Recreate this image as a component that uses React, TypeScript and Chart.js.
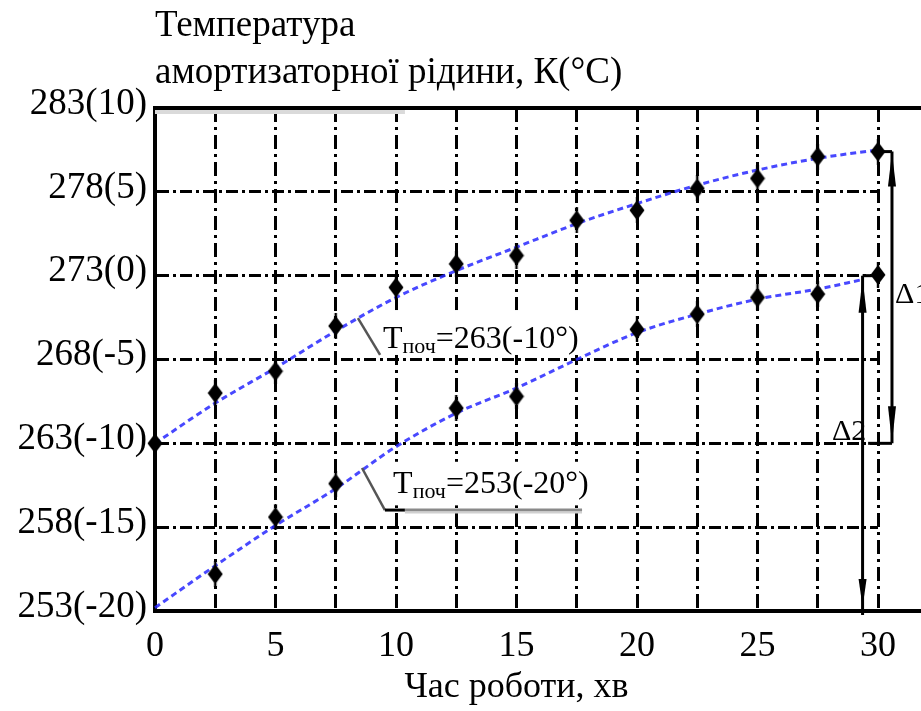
import React, { useEffect, useRef } from 'react';
import { Chart, registerables } from 'chart.js';

Chart.register(...registerables);

const FONT = "'Liberation Serif', 'Times New Roman', serif";

// ---- data ----
const TIME = [0, 2.5, 5, 7.5, 10, 12.5, 15, 17.5, 20, 22.5, 25, 27.5, 30];
const X_LABELS = [0, 5, 10, 15, 20, 25, 30];
const Y_TICKS = [253, 258, 263, 268, 273, 278, 283];

// measured points, initial temperature 263 K
const MEAS_263_X = [0, 2.5, 5, 7.5, 10, 12.5, 15, 17.5, 20, 22.5, 25, 27.5, 30];
const MEAS_263_Y = [263.0, 266.0, 267.3, 270.0, 272.3, 273.7, 274.2, 276.3, 276.9, 278.2, 278.8, 280.1, 280.4];
// measured points, initial temperature 253 K
const MEAS_253_X = [2.5, 5, 7.5, 12.5, 15, 20, 22.5, 25, 27.5, 30];
const MEAS_253_Y = [255.2, 258.6, 260.6, 265.1, 265.8, 269.8, 270.7, 271.7, 271.9, 273.05];
// fitted curves
const FIT_263_X = [0, 2.5, 5, 7.5, 10, 12.5, 15, 17.5, 20, 22.5, 25, 27.5, 30];
const FIT_263_Y = [263.0, 265.4, 267.5, 269.7, 271.7, 273.3, 274.7, 276.1, 277.3, 278.4, 279.3, 280.0, 280.5];
const FIT_253_X = [0, 2.5, 5, 7.5, 10, 12.5, 15, 17.5, 20, 22.5, 25, 27.5, 29.3];
const FIT_253_Y = [253.2, 255.7, 258.1, 260.3, 262.8, 264.8, 266.3, 268.0, 269.6, 270.7, 271.6, 272.2, 272.75];

// annotations (data units)
const DELTA1_X = 30.58;
const DELTA1_RANGE = [280.4, 263];
const DELTA1_TICK_TOP_FROM = 30;
const DELTA1_TICK_BOTTOM_FROM = 29.59;
const DELTA1_LABEL = [30.71, 271.37];
const DELTA2_X = 29.36;
const DELTA2_RANGE = [273.0, 253];
const DELTA2_TICK_TO = 30;
const DELTA2_LABEL = [28.09, 263.2];
const LABEL_263_POS = [9.46, 268.68];
const LABEL_263_BOX = [9.34, 270.95, 17.7, 268.27];
const LEADER_263 = [[8.42, 270.47], [9.34, 268.27]];
const LABEL_253_POS = [9.88, 260.04];
const LABEL_253_BOX = [9.6, 261.9, 18.1, 259.3];
const LEADER_253 = [[8.59, 261.53], [9.54, 259.02], [10.37, 259.02]];
const UNDERLINE_253_END = 17.72;
const TOP_SHADE_END = 10.37;

function makeMarker(): HTMLCanvasElement {
  const c = document.createElement('canvas');
  c.width = 16;
  c.height = 26;
  const g = c.getContext('2d')!;
  g.fillStyle = '#000';
  g.beginPath();
  g.moveTo(8, 3);
  g.lineTo(15.5, 13);
  g.lineTo(8, 23);
  g.lineTo(0.5, 13);
  g.closePath();
  g.fill();
  g.fillRect(6.8, 0, 2.4, 26);
  return c;
}

const annotPlugin = {
  id: 'annot',
  beforeDatasetsDraw(chart: any) {
    const { ctx, scales } = chart;
    const px = (v: number) => scales.x.getPixelForValue(v);
    const py = (v: number) => scales.y.getPixelForValue(v);
    ctx.save();
    ctx.fillStyle = '#fff';
    for (const b of [LABEL_263_BOX, LABEL_253_BOX]) {
      ctx.fillRect(px(b[0]), py(b[1]), px(b[2]) - px(b[0]), py(b[3]) - py(b[1]));
    }
    ctx.restore();
  },
  afterDraw(chart: any) {
    const { ctx, chartArea: ca, scales } = chart;
    const px = (v: number) => scales.x.getPixelForValue(v);
    const py = (v: number) => scales.y.getPixelForValue(v);
    const W = chart.width;
    const seg = (x1: number, y1: number, x2: number, y2: number) => {
      ctx.beginPath();
      ctx.moveTo(x1, y1);
      ctx.lineTo(x2, y2);
      ctx.stroke();
    };
    const arrow = (x: number, tip: number, dir: number, len: number, hw: number) => {
      ctx.beginPath();
      ctx.moveTo(x, tip);
      ctx.lineTo(x - hw, tip + dir * len);
      ctx.lineTo(x + hw, tip + dir * len);
      ctx.closePath();
      ctx.fill();
    };
    ctx.save();
    ctx.setLineDash([]);
    // light shade under top border
    ctx.fillStyle = '#dadada';
    ctx.fillRect(px(0), ca.top + 2, px(TOP_SHADE_END) - px(0), 4);
    // top border and axis extension
    ctx.strokeStyle = '#000';
    ctx.lineWidth = 4;
    seg(ca.left - 2, ca.top, W, ca.top);
    seg(ca.right, ca.bottom, W, ca.bottom);

    // delta 1
    ctx.lineWidth = 3;
    ctx.fillStyle = '#000';
    const d1x = px(DELTA1_X);
    seg(d1x, py(DELTA1_RANGE[0]), d1x, py(DELTA1_RANGE[1]));
    seg(px(DELTA1_TICK_TOP_FROM), py(DELTA1_RANGE[0]), d1x, py(DELTA1_RANGE[0]));
    seg(px(DELTA1_TICK_BOTTOM_FROM), py(DELTA1_RANGE[1]), d1x, py(DELTA1_RANGE[1]));
    arrow(d1x, py(DELTA1_RANGE[0]) + 1, 1, 34, 4);
    arrow(d1x, py(DELTA1_RANGE[1]) - 1, -1, 36, 4);
    // delta 2
    const d2x = px(DELTA2_X);
    seg(d2x, py(DELTA2_RANGE[0]), d2x, py(DELTA2_RANGE[1]) + 4);
    seg(d2x, py(DELTA2_RANGE[0]), px(DELTA2_TICK_TO), py(DELTA2_RANGE[0]));
    arrow(d2x, py(DELTA2_RANGE[0]) + 3, 1, 34, 4);
    arrow(d2x, py(DELTA2_RANGE[1]) - 4, -1, 28, 4);

    ctx.fillStyle = '#000';
    ctx.textAlign = 'left';
    ctx.textBaseline = 'alphabetic';
    ctx.font = `30px ${FONT}`;
    ctx.fillText('Δ1', px(DELTA1_LABEL[0]), py(DELTA1_LABEL[1]));
    ctx.fillText('Δ2', px(DELTA2_LABEL[0]), py(DELTA2_LABEL[1]));

    // leaders
    ctx.strokeStyle = '#555';
    ctx.lineWidth = 2.5;
    seg(px(LEADER_263[0][0]), py(LEADER_263[0][1]), px(LEADER_263[1][0]), py(LEADER_263[1][1]));
    seg(px(LEADER_253[0][0]), py(LEADER_253[0][1]), px(LEADER_253[1][0]), py(LEADER_253[1][1]));
    ctx.strokeStyle = '#000';
    ctx.lineWidth = 3;
    seg(px(LEADER_253[1][0]), py(LEADER_253[1][1]), px(LEADER_253[2][0]), py(LEADER_253[2][1]));
    ctx.strokeStyle = '#8a8a8a';
    ctx.lineWidth = 3;
    seg(px(LEADER_253[2][0]), py(LEADER_253[2][1]), px(UNDERLINE_253_END), py(LEADER_253[2][1]));
    ctx.strokeStyle = '#d0d0d0';
    ctx.lineWidth = 2;
    seg(px(LEADER_253[2][0]), py(LEADER_253[2][1]) + 2.5, px(UNDERLINE_253_END), py(LEADER_253[2][1]) + 2.5);

    const drawT = (x: number, y: number, rest: string) => {
      ctx.fillStyle = '#000';
      ctx.font = `32px ${FONT}`;
      ctx.fillText('Т', x, y);
      let cx = x + ctx.measureText('Т').width;
      ctx.font = `22px ${FONT}`;
      ctx.fillText('поч', cx, y + 5);
      cx += ctx.measureText('поч').width;
      ctx.font = `32px ${FONT}`;
      ctx.fillText(rest, cx, y);
    };
    drawT(px(LABEL_263_POS[0]), py(LABEL_263_POS[1]), '=263(-10°)');
    drawT(px(LABEL_253_POS[0]), py(LABEL_253_POS[1]), '=253(-20°)');

    // y-axis title (horizontal, top-left)
    ctx.font = `37px ${FONT}`;
    ctx.fillStyle = '#000';
    ctx.fillText('Температура', ca.left, 36);
    ctx.fillText('амортизаторної рідини, К(°С)', ca.left, 83);
    ctx.restore();
  },
};

export default function App() {
  const ref = useRef<HTMLCanvasElement>(null);
  useEffect(() => {
    document.body.style.margin = '0';
    const marker = makeMarker();
    const BLUE = 'rgba(40,40,255,0.85)';
    const chart = new Chart(ref.current!, {
      type: 'line',
      data: {
        datasets: [
          {
            label: 'meas263',
            data: MEAS_263_X.map((x, i) => ({ x, y: MEAS_263_Y[i] })),
            showLine: false,
            pointStyle: marker as any,
            pointRadius: 8,
            order: 0,
            clip: false as any,
          },
          {
            label: 'meas253',
            data: MEAS_253_X.map((x, i) => ({ x, y: MEAS_253_Y[i] })),
            showLine: false,
            pointStyle: marker as any,
            pointRadius: 8,
            order: 0,
            clip: false as any,
          },
          {
            label: 'fit263',
            data: FIT_263_X.map((x, i) => ({ x, y: FIT_263_Y[i] })),
            borderColor: BLUE,
            borderWidth: 3,
            borderDash: [6, 4],
            pointRadius: 0,
            tension: 0.4,
            cubicInterpolationMode: 'monotone',
            fill: false,
            order: 1,
            clip: false as any,
          },
          {
            label: 'fit253',
            data: FIT_253_X.map((x, i) => ({ x, y: FIT_253_Y[i] })),
            borderColor: BLUE,
            borderWidth: 3,
            borderDash: [6, 4],
            pointRadius: 0,
            tension: 0.4,
            cubicInterpolationMode: 'monotone',
            fill: false,
            order: 1,
            clip: false as any,
          },
        ],
      },
      options: {
        responsive: false,
        animation: false,
        devicePixelRatio: 1,
        events: [],
        layout: { padding: { top: 108, right: 43, left: 0, bottom: 0 } },
        plugins: {
          legend: { display: false },
          tooltip: { enabled: false },
        },
        scales: {
          x: {
            type: 'linear',
            min: 0,
            max: 30,
            afterFit: (s: any) => { s.height = 100; },
            afterBuildTicks: (s: any) => { s.ticks = TIME.map((v) => ({ value: v })); },
            ticks: {
              callback: (v: any) => (X_LABELS.includes(Number(v)) ? String(v) : ''),
              font: { size: 36, family: FONT },
              color: '#000',
              padding: 14,
              maxRotation: 0,
              autoSkip: false,
            },
            grid: { color: '#000', lineWidth: 3, drawTicks: false },
            border: { color: '#000', width: 4, dash: [14, 5, 3, 5] },
            title: {
              display: true,
              text: 'Час роботи, хв',
              font: { size: 36, family: FONT },
              color: '#000',
              padding: { top: 0, bottom: 2 },
            },
          },
          y: {
            type: 'linear',
            min: 253,
            max: 283,
            afterFit: (s: any) => { s.width = 155; },
            afterBuildTicks: (s: any) => { s.ticks = Y_TICKS.map((v) => ({ value: v })); },
            ticks: {
              callback: (v: any) => `${v}(${Number(v) - 273})`,
              font: { size: 37, family: FONT },
              color: '#000',
              padding: 8,
              labelOffset: -4,
            },
            grid: { color: '#000', lineWidth: 3, drawTicks: false },
            border: { color: '#000', width: 4, dash: [12, 4, 3, 4] },
          },
        },
      } as any,
      plugins: [annotPlugin],
    });
    return () => chart.destroy();
  }, []);
  return (
    <div style={{ position: 'fixed', left: 0, top: 0, width: 921, height: 711, background: '#fff' }}>
      <canvas ref={ref} width={921} height={711} style={{ display: 'block' }} />
    </div>
  );
}
